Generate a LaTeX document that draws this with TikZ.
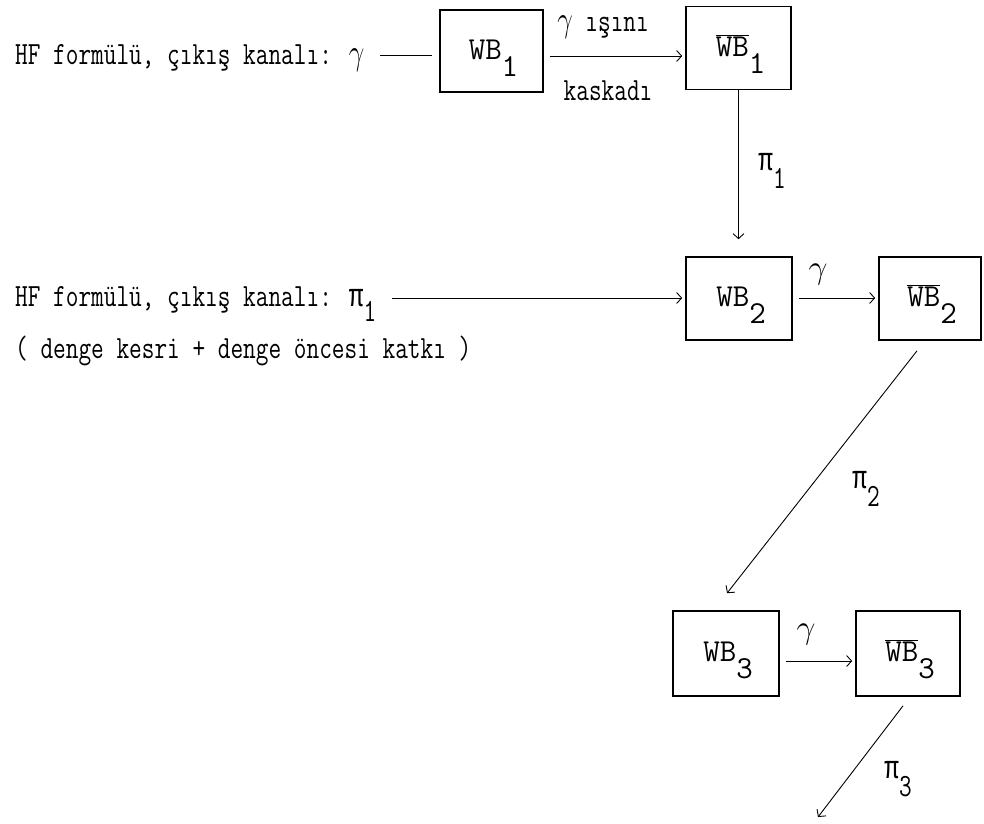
\documentclass[tikz,border=0pt]{standalone}
\usepackage{fontspec}
\usepackage{graphicx}
\usetikzlibrary{arrows.meta,calc}
\newfontfamily\grkfont{Liberation Mono}
\newcommand{\tw}[1]{\scalebox{0.82}[1.08]{#1}}
\newcommand{\sbx}[1]{\raisebox{-17pt}{#1}}
\newcommand{\sbxs}[1]{\raisebox{-14pt}{#1}}
\newcommand{\gam}{\scalebox{1.35}{$\gamma$}}
\newcommand{\ppi}{{\grkfont π}}
\begin{document}
\begin{tikzpicture}[x=1pt,y=-1pt,
  box/.style={draw, line width=1.6pt, inner sep=0pt},
  txt/.style={font=\fontsize{30}{32}\selectfont\ttfamily, inner sep=0pt},
  btxt/.style={font=\fontsize{32}{34}\selectfont\ttfamily, inner sep=0pt},
  arr/.style={line width=0.9pt, -{Straight Barb[length=5pt,width=11pt]}},
  ln/.style={line width=0.9pt}]
\useasboundingbox (0,0) rectangle (984,823);

% boxes
\node[box, minimum width=103pt, minimum height=82pt] (b1)  at (491.5,51) {};
\node[box, minimum width=105pt, minimum height=83pt] (bb1) at (738.5,48) {};
\node[box, minimum width=106pt, minimum height=83pt] (b2)  at (739,298.5) {};
\node[box, minimum width=102pt, minimum height=83pt] (bb2) at (930,298.5) {};
\node[box, minimum width=106pt, minimum height=85pt] (b3)  at (726,653.5) {};
\node[box, minimum width=104pt, minimum height=85pt] (bb3) at (908,653.5) {};

% box labels
\node[btxt, anchor=base] (t1)  at ($(b1.center)+(2,8)$)  {WB\sbx{1}};
\node[btxt, anchor=base] (tt1) at ($(bb1.center)+(2,8)$) {$\overline{\mbox{WB}}$\sbx{1}};
\node[btxt, anchor=base] (t2)  at ($(b2.center)+(2,8)$)  {WB\sbx{2}};
\node[btxt, anchor=base] (tt2) at ($(bb2.center)+(2,8)$) {$\overline{\mbox{WB}}$\sbx{2}};
\node[btxt, anchor=base] (t3)  at ($(b3.center)+(2,8)$)  {WB\sbx{3}};
\node[btxt, anchor=base] (tt3) at ($(bb3.center)+(2,8)$) {$\overline{\mbox{WB}}$\sbx{3}};

% left texts
\node[txt, anchor=base west] (h1) at (15,64) {\tw{HF formülü, çıkış kanalı: \gam}};
\node[txt, anchor=base west] (h2) at (15,306) {\tw{HF formülü, çıkış kanalı: \ppi\sbxs{1}}};
\node[txt, anchor=base west] (h3) at (15,358) {\tw{( denge kesri + denge öncesi katkı )}};

% row 1
\coordinate (l1s) at (380,55);
\coordinate (l1e) at (432,55);
\draw[ln] (l1s) -- (l1e);
\draw[arr] ($(b1.east)+(6,5)$) -- ($(bb1.west)+(-3,8)$);
\node[txt, anchor=base] (g1a) at (603,31) {\tw{\gam{} ışını}};
\node[txt, anchor=base] (g1b) at (608,100) {\tw{kaskadı}};

% vertical pi1
\draw[arr] (bb1.south) -- ($(bb1.south |- b2.north)+(0,-17)$);
\node[txt, anchor=base] (p1) at (772,170) {\tw{\ppi\sbx{1}}};

% row 2
\coordinate (l2s) at (392,298);
\draw[arr] (l2s) -- ($(b2.west)+(-3,-0.5)$);
\draw[arr] ($(b2.east)+(6,-0.5)$) -- ($(bb2.west)+(-3,-0.5)$);
\node[txt, anchor=base] (g2) at (818,278) {\gam};

% diagonal pi2
\draw[arr] ($(bb2.south)+(-13,10)$) -- ($(b3.north)+(1,-17)$);
\node[txt, anchor=base] (p2) at (866,488) {\tw{\ppi\sbx{2}}};

% row 3
\draw[arr] ($(b3.east)+(6,7.5)$) -- ($(bb3.west)+(-3,7.5)$);
\node[txt, anchor=base] (g3) at (806,638) {\gam};

% diagonal pi3
\coordinate (e3) at (818,817);
\draw[arr] ($(bb3.south)+(-5,9)$) -- (e3);
\node[txt, anchor=base] (p3) at (898,778) {\tw{\ppi\sbx{3}}};
\end{tikzpicture}
\end{document}
